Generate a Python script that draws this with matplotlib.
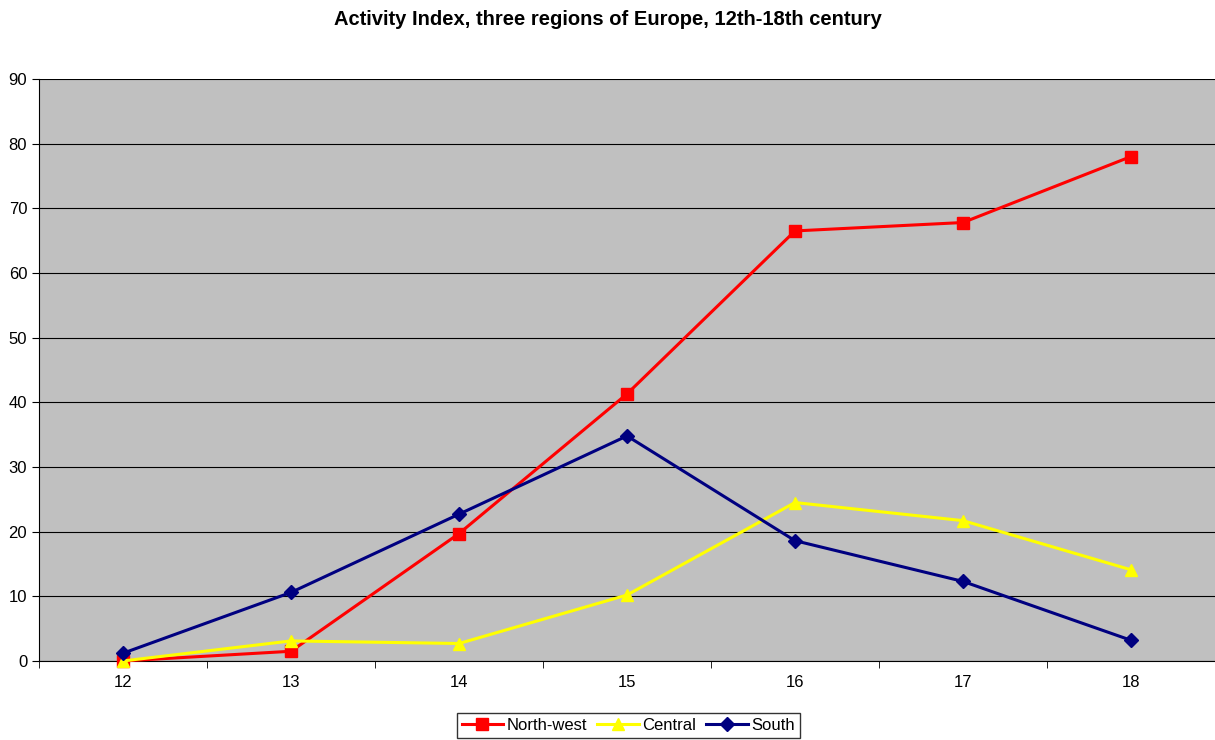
import numpy as np
import matplotlib.pyplot as plt

plt.rcParams['font.family'] = ['Liberation Sans', 'DejaVu Sans']

centuries = [12, 13, 14, 15, 16, 17, 18]
north_west = [0.0, 1.5, 19.7, 41.3, 66.5, 67.8, 78.0]
central = [0.0, 3.1, 2.7, 10.2, 24.5, 21.7, 14.1]
south = [1.2, 10.6, 22.7, 34.8, 18.6, 12.3, 3.2]

fig = plt.figure(figsize=(12.15, 7.4), dpi=100)
ax = fig.add_axes([0.0321, 0.1068, 0.9679, 0.7865])
ax.set_facecolor('#c0c0c0')

ax.plot(centuries, north_west, color='#ff0000', lw=2.2, marker='s', ms=8, label='North-west', clip_on=False, zorder=3)
ax.plot(centuries, central, color='#ffff00', lw=2.2, marker='^', ms=9, label='Central', clip_on=False, zorder=3)
ax.plot(centuries, south, color='#000080', lw=2.2, marker='D', ms=7, label='South', clip_on=False, zorder=4)

ax.set_xlim(11.5, 18.5)
ax.set_ylim(0, 90)
ax.set_yticks(np.arange(0, 91, 10))
ax.set_xticks(centuries)
ax.set_xticks(np.arange(11.5, 18.6, 1), minor=True)
ax.tick_params(axis='x', which='major', length=0, labelsize=12, pad=10)
ax.tick_params(axis='x', which='minor', length=5, direction='out')
ax.tick_params(axis='y', length=5, direction='out', labelsize=12)
ax.grid(axis='y', color='black', lw=0.8)
ax.set_axisbelow(True)
for s in ['top', 'right']:
    ax.spines[s].set_visible(False)
for s in ['left', 'bottom']:
    ax.spines[s].set_color('black')

fig.suptitle('Activity Index, three regions of Europe, 12th-18th century', y=0.986, fontsize=14.5, fontweight='bold')

leg = fig.legend(loc='center', bbox_to_anchor=(0.517, 0.02), ncol=3, frameon=True, fancybox=False,
                 edgecolor='black', fontsize=12, handlelength=2.5, handletextpad=0.2, columnspacing=0.6,
                 borderpad=0.3)
leg.get_frame().set_linewidth(1)

fig.savefig('out.png', dpi=100)
